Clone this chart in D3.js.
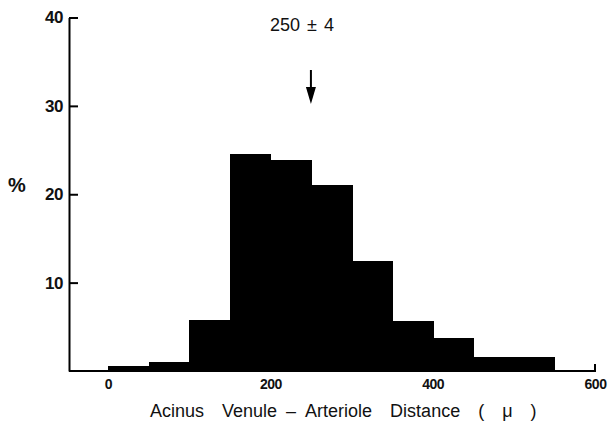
<!DOCTYPE html>
<html lang="en">
<head>
<meta charset="utf-8">
<title>Acinus distance histogram</title>
<script src="https://d3js.org/d3.v7.min.js"></script>
<style>
  body { margin: 0; background: #fff; }
  text { font-family: "Liberation Sans", Arial, sans-serif; fill: #111; }
  .tick text { font-weight: bold; letter-spacing: -0.5px; }
</style>
</head>
<body>
<script>
// bin starts (microns) and percent of acini in each 50 µ bin
const binStarts = [0, 50, 100, 150, 200, 250, 300, 350, 400, 450, 500, 550];
const binWidth = 50;
const percents = [0.6, 1.0, 5.8, 24.6, 23.9, 21.1, 12.4, 5.65, 3.7, 1.6, 1.6, 0];
const xTicks = [0, 200, 400, 600];
const yTicks = [10, 20, 30, 40];
const meanValue = 250;
const meanLabel = "250 \u00b1 4";

const w = 609, h = 421;
const svg = d3.select("body").append("svg")
  .attr("width", w).attr("height", h);

const x = d3.scaleLinear().domain([0, 600]).range([108, 595]);
const y = d3.scaleLinear().domain([0, 40]).range([371, 17.5]);
const axisX0 = 69;

// bars
svg.selectAll("rect.bar")
  .data(binStarts)
  .enter()
  .append("rect")
  .attr("class", "bar")
  .attr("x", d => Math.round(x(d)))
  .attr("width", (d) => Math.round(x(d + binWidth)) - Math.round(x(d)) + 1)
  .attr("y", (d, i) => y(percents[i]))
  .attr("height", (d, i) => y(0) - y(percents[i]))
  .attr("fill", "#000")
  .attr("shape-rendering", "crispEdges");

// y axis
const yAxis = d3.axisLeft(y)
  .tickValues(yTicks)
  .tickSizeInner(-9)
  .tickSizeOuter(0)
  .tickPadding(6);

const gy = svg.append("g")
  .attr("transform", "translate(" + axisX0 + ",0)")
  .call(yAxis);
gy.select(".domain").attr("stroke-width", 2);
gy.selectAll(".tick line").attr("stroke-width", 2);
gy.selectAll(".tick text").style("font-size", "17px");

// x axis
const xAxis = d3.axisBottom(x)
  .tickValues(xTicks)
  .tickSize(0)
  .tickPadding(8);

const gx = svg.append("g")
  .attr("transform", "translate(0," + y(0) + ")")
  .call(xAxis);
gx.select(".domain").remove();
gx.selectAll(".tick text").style("font-size", "14px");

svg.append("path")
  .attr("d", "M" + axisX0 + "," + y(0) + "H" + x(600) + "V" + (y(0) - 7))
  .attr("fill", "none")
  .attr("stroke", "#000")
  .attr("stroke-width", 2);

// y label
svg.append("text")
  .attr("x", 8)
  .attr("y", 192)
  .style("font-size", "20px")
  .style("font-weight", "bold")
  .text("%");

// x label
svg.append("text")
  .attr("x", 150)
  .attr("y", 417)
  .style("font-size", "18px")
  .style("word-spacing", "13px")
  .text("Acinus Venule\u2002\u2013\u2002Arteriole Distance ( \u03bc )");

// mean marker
svg.append("text")
  .attr("x", 270)
  .attr("y", 31)
  .style("font-size", "18px")
  .style("word-spacing", "2px")
  .text(meanLabel);

svg.append("line")
  .attr("x1", x(meanValue)).attr("x2", x(meanValue))
  .attr("y1", 70).attr("y2", 94)
  .attr("stroke", "#000")
  .attr("stroke-width", 2);

svg.append("path")
  .attr("d", "M" + (x(meanValue) - 5) + ",87L" + x(meanValue) + ",104L" + (x(meanValue) + 5) + ",87Z")
  .attr("fill", "#000");
</script>
</body>
</html>
